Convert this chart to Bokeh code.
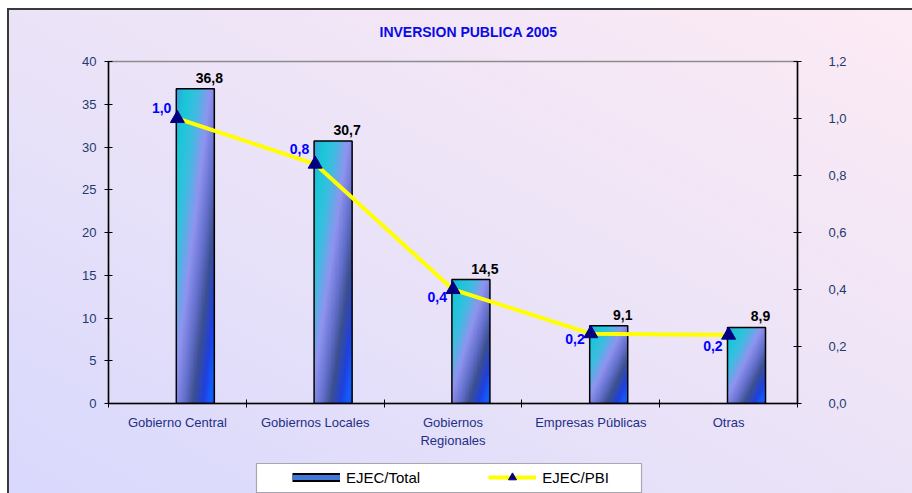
import numpy as np
from bokeh.plotting import figure
from bokeh.layouts import column
from bokeh.models import (Range1d, LinearAxis, FixedTicker, CustomJSTickFormatter,
                          ColumnDataSource, Legend, LegendItem, BoxAnnotation)
from bokeh.core.properties import value
from bokeh.embed import file_html
from bokeh.resources import INLINE

# ---------------- data ----------------
title_text = "INVERSION PUBLICA 2005"
categories = ["Gobierno Central", "Gobiernos Locales", "Gobiernos\nRegionales",
              "Empresas Públicas", "Otras"]
ejec_total = [36.8, 30.7, 14.5, 9.1, 8.9]
ejec_pbi = [1.0, 0.84, 0.40, 0.245, 0.24]
left_ticks = [0, 5, 10, 15, 20, 25, 30, 35, 40]
right_ticks = [0.0, 0.2, 0.4, 0.6, 0.8, 1.0, 1.2]
series_names = ["EJEC/Total", "EJEC/PBI"]

# ---------------- styles ----------------
FONT = "Liberation Sans"
n = len(categories)
centers = np.arange(n) + 0.5
bar_w = 0.276
bar_shift = 0.13
bar_x = centers + bar_shift
pbi_label_dy = [-11, -15, 7, 5, 11]   # label placement (px, down positive)

BG = ("linear-gradient(#3a3a3a, #3a3a3a) 7px 8px / 2px 100% no-repeat, "
      "linear-gradient(#3a3a3a, #3a3a3a) 7px 8px / 100% 2px no-repeat, "
      "linear-gradient(to top right, #d8d8fd 0%, #e9e2f8 45%, #fdebf4 100%) 9px 10px / 100% 100% no-repeat, "
      "#ffffff")

W, H_MAIN, H_LEG = 912, 453, 40
ML, MR = 108, 115

p = figure(width=W, height=H_MAIN, x_range=Range1d(0, n), y_range=Range1d(0, 40),
           output_backend="svg", toolbar_location=None,
           min_border_left=ML, min_border_right=MR, min_border_top=61, min_border_bottom=50,
           background_fill_alpha=0, border_fill_alpha=0,
           outline_line_color="#8c8c8c", outline_line_width=1.5)
p.extra_y_ranges = {"pbi": Range1d(0, 1.2)}
p.xgrid.visible = False
p.ygrid.visible = False

# title
p.title.text = title_text
p.title.align = "left"
p.title.offset = 271
p.title.standoff = 43
p.title.text_font = FONT
p.title.text_font_style = "bold"
p.title.text_font_size = "14px"
p.title.text_color = "#0a0ae6"

# bar gradient texture
def bar_texture(h=200, w=48):
    yy, xx = np.mgrid[0:h, 0:w]
    t = 0.5 * (xx / (w - 1)) + 0.5 * (1 - yy / (h - 1))
    st = [0.0, 0.12, 0.28, 0.45, 0.6, 0.72, 0.85, 0.95, 1.0]
    cols = np.array([[58, 160, 224], [24, 200, 216], [60, 190, 225], [144, 148, 240],
                     [100, 112, 205], [60, 80, 144], [32, 64, 224], [16, 96, 255],
                     [32, 80, 224]], dtype=float)
    img = np.zeros((h, w), dtype=np.uint32)
    view = img.view(dtype=np.uint8).reshape((h, w, 4))
    for c in range(3):
        view[:, :, c] = np.interp(t, st, cols[:, c]).astype(np.uint8)
    view[:, :, 3] = 255
    return img

tex = bar_texture()
p.image_rgba(image=[tex] * n, x=list(bar_x - bar_w / 2), y=[0] * n,
             dw=[bar_w] * n, dh=ejec_total)
p.vbar(x=bar_x, width=bar_w, top=ejec_total, fill_alpha=0,
       line_color="black", line_width=1.5)

# bar value labels
bar_lbl = ColumnDataSource(dict(x=bar_x, y=ejec_total,
                                t=[f"{v:.1f}".replace(".", ",") for v in ejec_total]))
p.text(x="x", y="y", text="t", source=bar_lbl, text_font=value(FONT),
       text_font_style="bold", text_font_size="14px", text_color="black",
       text_align="center", text_baseline="bottom", x_offset=14, y_offset=-6)

# PBI line
p.line(x=centers, y=ejec_pbi, y_range_name="pbi", line_color="#ffff00", line_width=4)
p.scatter(x=centers, y=ejec_pbi, y_range_name="pbi", marker="triangle",
          size=14, fill_color="#000080", line_color="#000080")
pbi_lbl = ColumnDataSource(dict(x=centers, y=ejec_pbi, dy=pbi_label_dy,
                                t=[f"{v:.1f}".replace(".", ",") for v in ejec_pbi]))
p.text(x="x", y="y", text="t", source=pbi_lbl, y_range_name="pbi", text_font=value(FONT),
       text_font_style="bold", text_font_size="14px", text_color="#0000ff",
       text_align="right", text_baseline="middle", x_offset=-6, y_offset="dy")

# axes
AX_COL = "#1f3a6e"
ya = p.yaxis[0]
ya.ticker = FixedTicker(ticks=left_ticks)
ya.major_tick_in = 4
ya.major_tick_out = 4
ya.minor_tick_line_color = None
ya.axis_line_color = "black"
ya.axis_line_width = 1.5
ya.major_tick_line_color = "black"
ya.major_label_text_font = FONT
ya.major_label_text_font_size = "13px"
ya.major_label_text_color = AX_COL
ya.major_label_standoff = 8

ya2 = LinearAxis(y_range_name="pbi", ticker=FixedTicker(ticks=right_ticks),
                 formatter=CustomJSTickFormatter(code="return tick.toFixed(1).replace('.', ',');"))
ya2.major_tick_in = 4
ya2.major_tick_out = 4
ya2.minor_tick_line_color = None
ya2.axis_line_color = "black"
ya2.axis_line_width = 1.5
ya2.major_label_text_font = FONT
ya2.major_label_text_font_size = "13px"
ya2.major_label_text_color = AX_COL
ya2.major_label_standoff = 27
p.add_layout(ya2, "right")

xa = p.xaxis[0]
xa.ticker = FixedTicker(ticks=list(centers), minor_ticks=list(range(n + 1)))
xa.formatter = CustomJSTickFormatter(args=dict(names=categories),
                                     code="return names[Math.floor(tick)];")
xa.major_tick_in = 0
xa.major_tick_out = 0
xa.minor_tick_in = 4
xa.minor_tick_out = 4
xa.minor_tick_line_color = "black"
xa.axis_line_color = "black"
xa.axis_line_width = 1.5
xa.major_label_text_font = FONT
xa.major_label_text_font_size = "13px"
xa.major_label_text_color = "#1f2f86"
xa.major_label_standoff = 7

# ---------------- legend strip (separate small figure, page-pixel x range) ----------------
q = figure(width=W, height=H_LEG, x_range=Range1d(ML, W - MR), y_range=Range1d(0, H_LEG),
           output_backend="svg", toolbar_location=None,
           x_axis_location=None, y_axis_location=None,
           min_border_left=ML, min_border_right=MR, min_border_top=0, min_border_bottom=0,
           background_fill_alpha=0, border_fill_alpha=0, outline_line_color=None)
q.xgrid.visible = False
q.ygrid.visible = False
q.add_layout(BoxAnnotation(left=256, right=641, bottom=1, top=30,
                           fill_color="white", fill_alpha=1.0,
                           line_color="black", line_width=1.2))
nanxy = dict(x=[np.nan, np.nan], y=[np.nan, np.nan])
sw_black = q.line(**nanxy, line_color="black", line_width=9)
sw_blue = q.line(**nanxy, line_color="#3f78d8", line_width=5)
lg_line = q.line(**nanxy, line_color="#ffff00", line_width=4)
lg_tri = q.scatter(**nanxy, marker="triangle", size=14,
                   fill_color="#000080", line_color="#000080")
legend = Legend(items=[LegendItem(label=series_names[0], renderers=[sw_black, sw_blue]),
                       LegendItem(label=series_names[1], renderers=[lg_line, lg_tri])],
                orientation="horizontal", location=(288 - ML, 2),
                glyph_width=48, glyph_height=20, padding=4, spacing=68,
                label_standoff=6, label_text_font=FONT, label_text_font_size="15px",
                label_text_color="black", border_line_alpha=0,
                background_fill_alpha=0, margin=0)
q.add_layout(legend, "center")

layout = column(p, q, spacing=0, styles={"background": BG})
open("out.html", "w").write(file_html(layout, INLINE))
